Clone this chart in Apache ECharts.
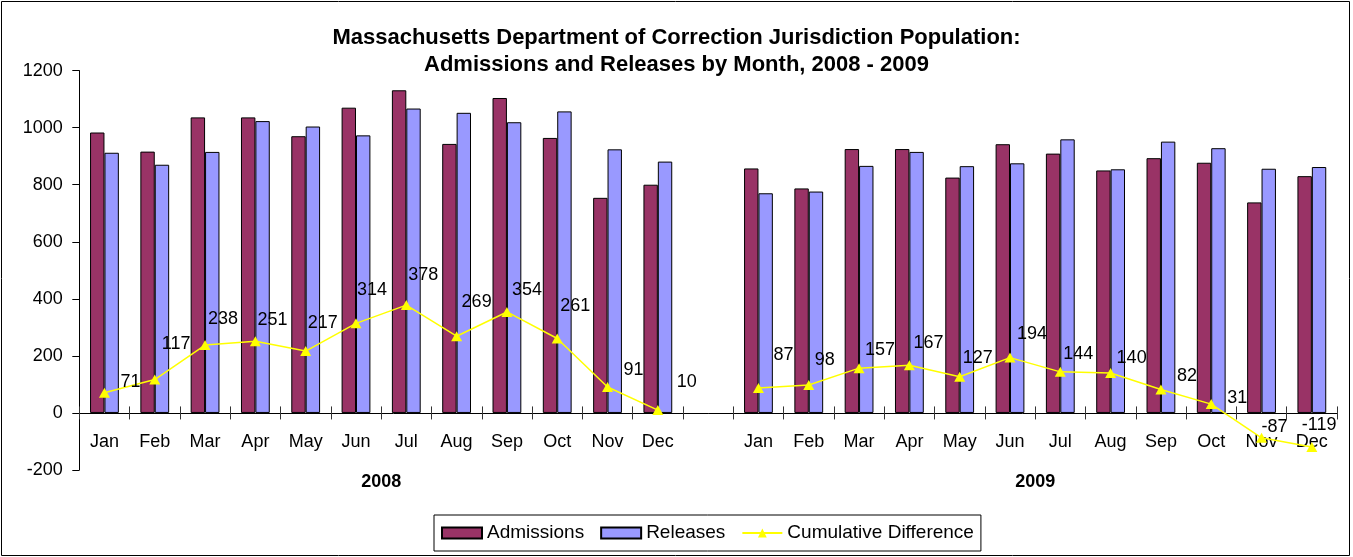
<!DOCTYPE html>
<html>
<head>
<meta charset="utf-8">
<script src="https://cdn.jsdelivr.net/npm/echarts@6/dist/echarts.min.js"></script>
<style>
html,body{margin:0;padding:0;background:#fff;}
#chart{width:1353px;height:557px;}
</style>
</head>
<body>
<div id="chart"></div>
<script>
const months = ['Jan','Feb','Mar','Apr','May','Jun','Jul','Aug','Sep','Oct','Nov','Dec'];
const years = ['2008','2009'];
const yTicks = [-200, 0, 200, 400, 600, 800, 1000, 1200];

const admissions2008 = [983, 916, 1036, 1036, 970, 1070, 1131, 943, 1104, 964, 754, 800];
const releases2008   = [912, 870, 915, 1023, 1004, 973, 1067, 1052, 1019, 1057, 924, 881];
const cumulative2008 = [71, 117, 238, 251, 217, 314, 378, 269, 354, 261, 91, 10];

const admissions2009 = [857, 787, 925, 925, 825, 942, 909, 850, 893, 877, 738, 830];
const releases2009   = [770, 776, 866, 915, 865, 875, 959, 854, 951, 928, 856, 862];
const cumulative2009 = [87, 98, 157, 167, 127, 194, 144, 140, 82, 31, -87, -119];

// label nudges (style only): [dx, dy] from point
const labelNudge2008 = [[16,-11],[7,-36],[3,-26],[2,-21],[2,-28],[1,-33],[2,-30],[5,-34],[5,-22],[3,-32],[16,-17],[19,-28]];
const labelNudge2009 = [[15,-33],[6,-25],[6,-18],[4,-22],[3,-19],[7,-24],[3,-18],[6,-15],[16,-14],[16,-6],[0,-11],[-10,-22]];

const FONT = 'Liberation Sans, Arial, sans-serif';
const categories = months.concat(['']).concat(months);
const admData = admissions2008.concat([null]).concat(admissions2009);
const relData = releases2008.concat([null]).concat(releases2009);
const cumVals = cumulative2008.concat([null]).concat(cumulative2009);
const nudges = labelNudge2008.concat([[0,0]]).concat(labelNudge2009);
const cumData = cumVals.map((v, i) => v === null ? null : ({
  value: v,
  label: { offset: nudges[i] }
}));

const yMin = yTicks[0], yMax = yTicks[yTicks.length - 1];
const gridTop = 70.6, gridHeight = 399.4;
// second grid: same plot, but its bottom sits on the zero line (for the category axis)
const zeroGridHeight = gridHeight * (yMax - 0) / (yMax - yMin);

const chart = echarts.init(document.getElementById('chart'), null, {renderer: 'canvas'});
chart.setOption({
  animation: false,
  backgroundColor: '#fff',
  textStyle: { fontFamily: FONT },
  title: {
    text: 'Massachusetts Department of Correction Jurisdiction Population:\nAdmissions and Releases by Month, 2008 - 2009',
    left: 'center',
    top: 19,
    textStyle: { fontFamily: FONT, fontSize: 22, fontWeight: 'bold', color: '#000', lineHeight: 27 }
  },
  legend: {
    left: 434,
    top: 515,
    padding: [7, 7, 7, 7],
    itemGap: 16,
    itemWidth: 40,
    itemHeight: 11,
    borderColor: '#000',
    borderWidth: 1,
    borderRadius: 0,
    textStyle: { fontFamily: FONT, fontSize: 19, color: '#000', lineHeight: 22 },
    data: [
      { name: 'Admissions', icon: 'rect' },
      { name: 'Releases', icon: 'rect' },
      { name: 'Cumulative Difference' }
    ]
  },
  grid: [
    { left: 79.3, right: 16, top: gridTop, height: gridHeight },
    { left: 79.3, right: 16, top: gridTop, height: zeroGridHeight }
  ],
  xAxis: [
    {
      gridIndex: 0,
      type: 'category',
      data: categories,
      boundaryGap: true,
      axisLine: { show: false, onZero: false },
      axisTick: { show: false },
      axisLabel: { show: false },
      splitLine: { show: false }
    },
    {
      gridIndex: 0,
      type: 'value',
      min: 0,
      max: 25,
      position: 'bottom',
      axisLine: { show: false, onZero: false },
      axisTick: { show: false },
      splitLine: { show: false },
      axisLabel: {
        customValues: [6, 19],
        formatter: v => v === 6 ? years[0] : years[1],
        margin: 3,
        fontSize: 18,
        fontWeight: 'bold',
        color: '#000',
        fontFamily: FONT
      }
    },
    {
      gridIndex: 1,
      type: 'category',
      data: categories,
      boundaryGap: true,
      position: 'bottom',
      axisLine: { show: true, onZero: false, lineStyle: { color: '#000', width: 1 } },
      axisTick: { show: true, interval: 0, length: 6.5, lineStyle: { color: '#333' } },
      axisLabel: { interval: 0, margin: 20, fontSize: 18, color: '#000', fontFamily: FONT },
      splitLine: { show: false }
    },
    {
      gridIndex: 1,
      type: 'category',
      data: categories,
      boundaryGap: true,
      position: 'bottom',
      axisLine: { show: false, onZero: false },
      axisTick: { show: true, inside: true, interval: 0, length: 6.5, lineStyle: { color: '#333' } },
      axisLabel: { show: false },
      splitLine: { show: false }
    }
  ],
  yAxis: [
    {
      gridIndex: 0,
      type: 'value',
      min: yMin,
      max: yMax,
      interval: 200,
      axisLine: { show: true, onZero: false, lineStyle: { color: '#000', width: 1 } },
      axisTick: { show: true, length: 7, lineStyle: { color: '#000' } },
      axisLabel: { margin: 16.5, fontSize: 18, color: '#000', fontFamily: FONT, formatter: v => String(v) },
      splitLine: { show: false }
    },
    {
      gridIndex: 1,
      type: 'value',
      min: 0,
      max: yMax,
      show: false,
      axisLine: { show: false, onZero: false },
      splitLine: { show: false }
    }
  ],
  series: [
    {
      name: 'Admissions',
      type: 'bar',
      xAxisIndex: 0,
      yAxisIndex: 0,
      data: admData,
      barWidth: 14.4,
      barGap: '0%',
      itemStyle: { color: '#993366', borderColor: '#000', borderWidth: 1 }
    },
    {
      name: 'Releases',
      type: 'bar',
      xAxisIndex: 0,
      yAxisIndex: 0,
      data: relData,
      barWidth: 14.4,
      barGap: '0%',
      itemStyle: { color: '#9999FF', borderColor: '#000', borderWidth: 1 }
    },
    {
      name: 'Cumulative Difference',
      type: 'line',
      xAxisIndex: 0,
      yAxisIndex: 0,
      data: cumData,
      connectNulls: false,
      symbol: 'triangle',
      symbolSize: [11, 10],
      lineStyle: { color: '#FFFF00', width: 1.5 },
      itemStyle: { color: '#FFFF00', borderWidth: 0 },
      z: 5,
      label: {
        show: true,
        position: 'inside',
        align: 'left',
        verticalAlign: 'middle',
        fontSize: 18,
        color: '#000',
        fontFamily: FONT
      }
    }
  ],
  graphic: [
    {
      type: 'rect',
      shape: { x: 1.5, y: 1.5, width: 1348, height: 554 },
      style: { fill: 'none', stroke: '#000', lineWidth: 1 },
      silent: true,
      z: 100
    }
  ]
});
</script>
</body>
</html>
